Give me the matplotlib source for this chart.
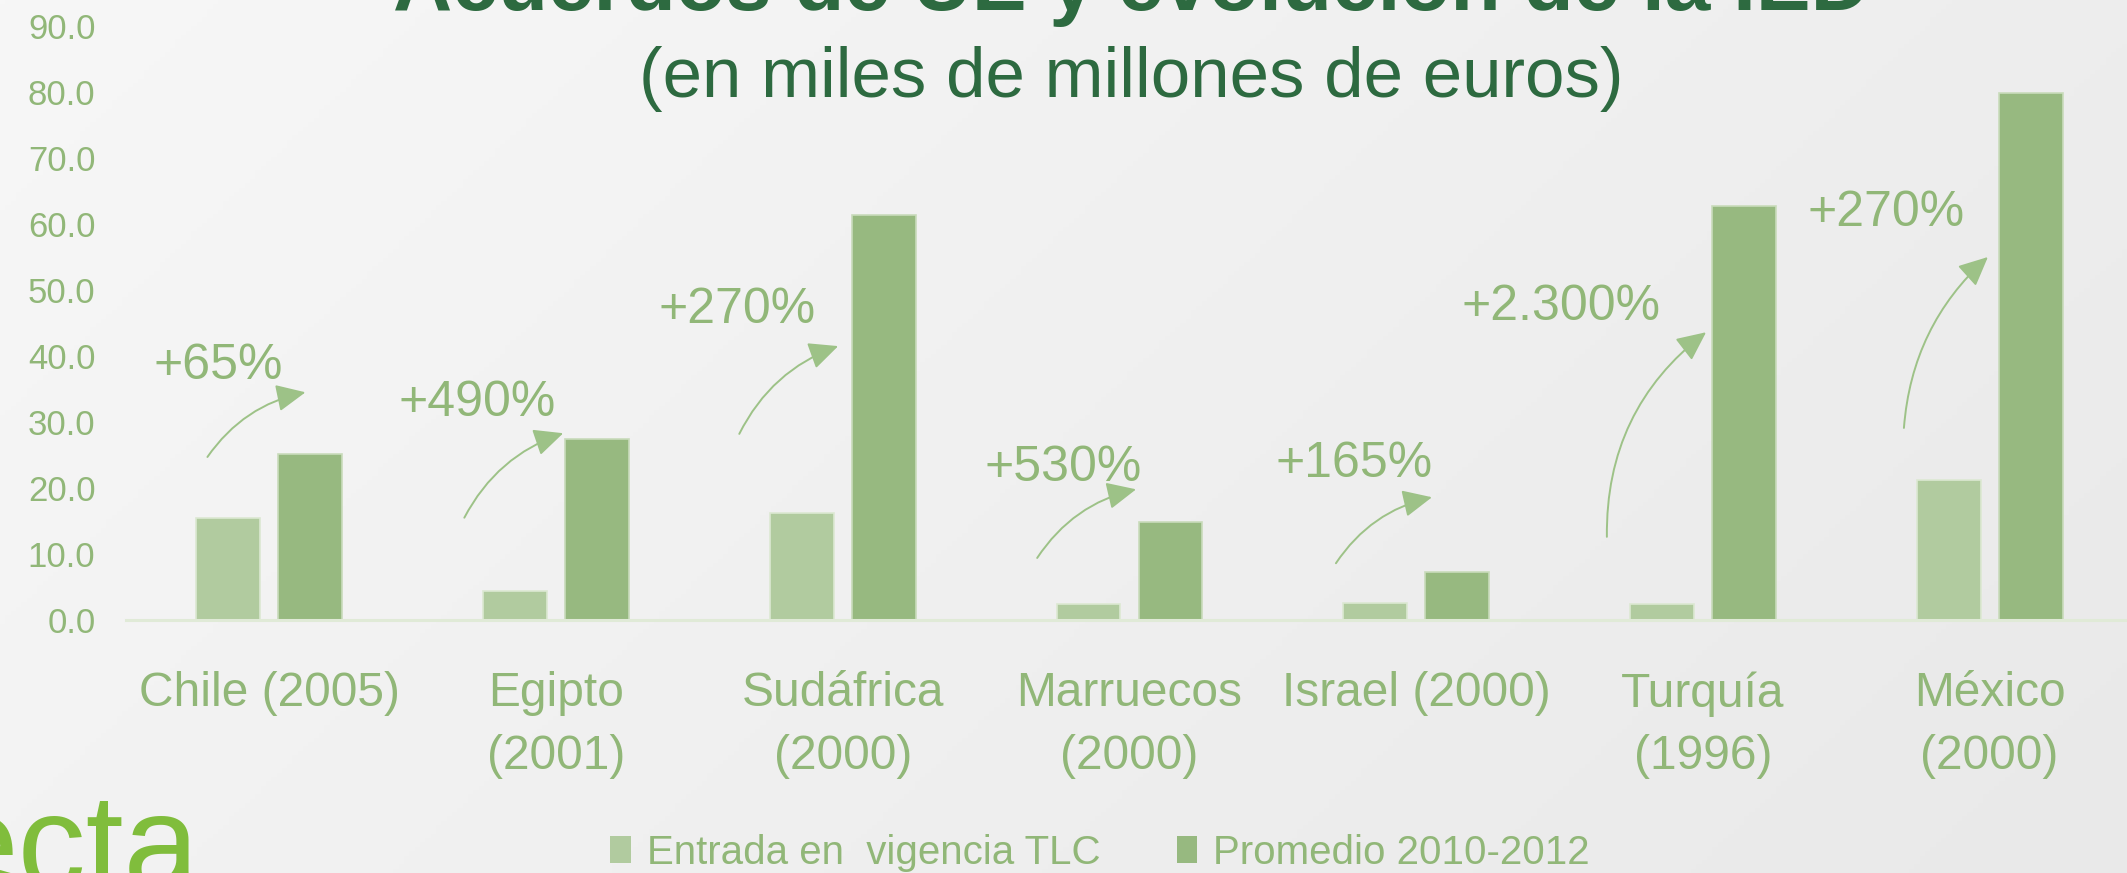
import numpy as np
import matplotlib
matplotlib.use("Agg")
from matplotlib import pyplot as plt
from matplotlib.patches import Patch

# data (miles de millones de euros)
paises = ["Chile (2005)", "Egipto\n(2001)", "Sudáfrica\n(2000)", "Marruecos\n(2000)",
          "Israel (2000)", "Turquía\n(1996)", "México\n(2000)"]
entrada = [15.5, 4.4, 16.2, 2.4, 2.6, 2.4, 21.2]
promedio = [25.2, 27.4, 61.4, 14.8, 7.3, 62.7, 79.8]
subidas = ["+65%", "+490%", "+270%", "+530%", "+165%", "+2.300%", "+270%"]
series = ["Entrada en  vigencia TLC", "Promedio 2010-2012"]
yticks = [0, 10, 20, 30, 40, 50, 60, 70, 80, 90]

# where the % labels and the curved arrows sit (data coords)
etiqueta_xy = [(-0.18, 38.5), (0.725, 32.9), (1.632, 46.9), (2.768, 23.1),
               (3.783, 23.7), (4.505, 47.5), (5.638, 61.7)]
flecha_desde = [(-0.216, 24.7), (0.680, 15.5), (1.639, 28.2), (2.678, 9.4),
                (3.720, 8.6), (4.665, 12.6), (5.701, 29.1)]
flecha_hasta = [(0.126, 34.5), (1.025, 28.3), (1.984, 41.5), (3.023, 19.8),
                (4.055, 18.6), (5.011, 43.6), (5.994, 55.0)]
curva = [-0.2, -0.2, -0.2, -0.2, -0.2, -0.25, -0.2]

claro = "#b1cb9f"
oscuro = "#97b980"
verde_txt = "#91b778"
verde_titulo = "#2d6a40"

plt.rcParams['font.family'] = ['Liberation Sans', 'DejaVu Sans']

fig = plt.figure(figsize=(21.27, 8.73), dpi=100)

# background gradient
bg = fig.add_axes([0, 0, 1, 1], zorder=-10)
gx, gy = np.meshgrid(np.linspace(0, 1, 400), np.linspace(0, 1, 200))
grad = 247 - 14 * (0.7 * gx + 0.3 * gy)
bg.imshow(np.dstack([grad, grad, grad]).astype(np.uint8), aspect='auto', extent=(0, 1, 0, 1))
bg.axis('off')

ax = fig.add_axes([126 / 2127, 1 - 620 / 873, 2007 / 2127, 594 / 873])
ax.set_facecolor('none')
x = np.arange(len(paises))
w = 0.223
off = 0.143
ax.bar(x - off, entrada, width=w, color=claro, edgecolor="#dce8d2", linewidth=1.2, label=series[0])
ax.bar(x + off, promedio, width=w, color=oscuro, edgecolor="#c9dbbb", linewidth=1.2, label=series[1])

ax.set_xlim(-0.5, len(paises) - 0.5)
ax.set_ylim(0, 90)
ax.set_yticks(yticks)
ax.set_yticklabels(["%.1f" % v for v in yticks])
ax.set_xticks(x)
ax.set_xticklabels(paises)
ax.tick_params(axis='y', length=0, pad=22, labelsize=25, labelcolor=verde_txt)
ax.tick_params(axis='x', length=0, pad=37, labelsize=34.5, labelcolor=verde_txt)
plt.setp(ax.get_xticklabels(), linespacing=1.5)
for s in ['top', 'right', 'left']:
    ax.spines[s].set_visible(False)
ax.spines['bottom'].set_color('#e0ead7')
ax.spines['bottom'].set_linewidth(2.2)

for txt, pos, a, b, r in zip(subidas, etiqueta_xy, flecha_desde, flecha_hasta, curva):
    ax.text(pos[0], pos[1], txt, ha='center', va='center', fontsize=36, color=verde_txt)
    ax.annotate('', xy=b, xytext=a,
                arrowprops=dict(arrowstyle='-|>,head_length=0.9,head_width=0.42',
                                mutation_scale=20, color="#9dc287", lw=1.4,
                                connectionstyle="arc3,rad=%s" % r, shrinkA=0, shrinkB=0))

fig.text(1131 / 2127, 1 - 10 / 873, "Acuerdos de UE y evolución de la IED", ha='center',
         va='baseline', fontsize=59, weight='bold', color=verde_titulo)
fig.text(1131 / 2127, 1 - 97 / 873, "(en miles de millones de euros)", ha='center',
         va='baseline', fontsize=51, color=verde_titulo)

handles = [Patch(facecolor=claro), Patch(facecolor=oscuro)]
fig.legend(handles, series, loc='center', bbox_to_anchor=(1100 / 2127, 1 - 853 / 873), ncol=2,
           frameon=False, fontsize=29, handlelength=0.5, handleheight=0.65,
           handletextpad=0.4, columnspacing=1.9, labelcolor=verde_txt)

fig.text(200 / 2127, 1 - 889 / 873, "ecta", ha='right', va='baseline', fontsize=98, color="#80bd3c")

fig.savefig("out.png", dpi=100)
